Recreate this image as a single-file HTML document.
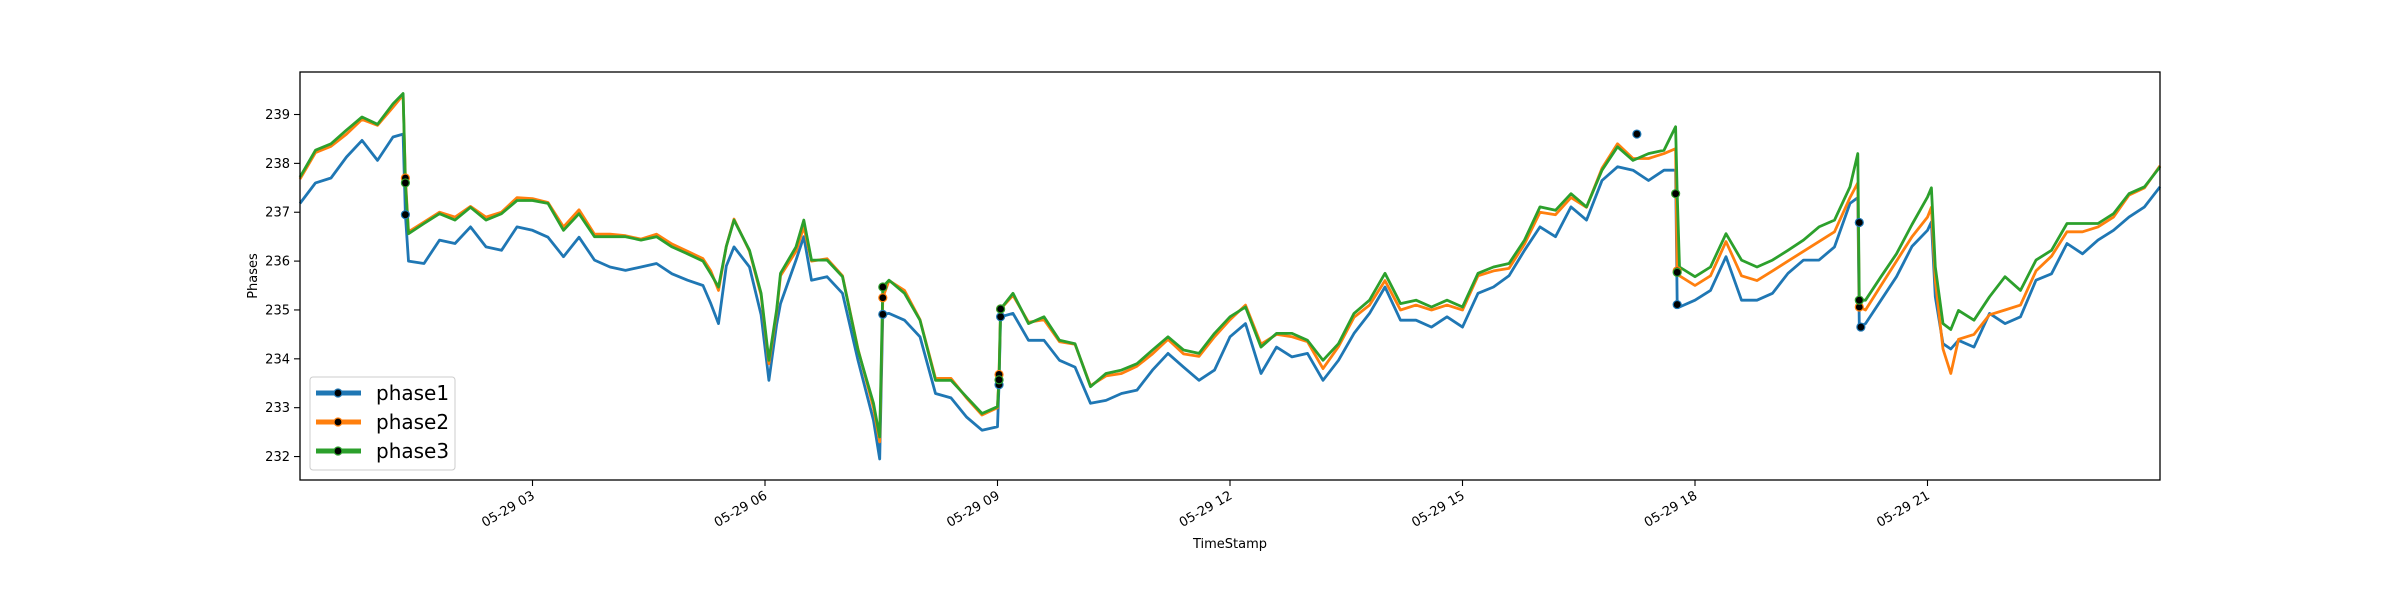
<!DOCTYPE html>
<html><head><meta charset="utf-8"><style>
html,body{margin:0;padding:0;background:#fff;}
svg{display:block;}
text{font-family:"DejaVu Sans","Liberation Sans",sans-serif;}
</style></head><body>
<svg id="chart" width="2400" height="600" viewBox="0 0 2400 600" xmlns="http://www.w3.org/2000/svg">
<rect x="0" y="0" width="2400" height="600" fill="#fff"/>
<g id="series"></g>
<g id="axes"></g>
</svg>
<script>
const hours = [0,0.2,0.4,0.6,0.8,1.0,1.2,1.33,1.36,1.4,1.6,1.8,2.0,2.2,2.4,2.6,2.8,3.0,3.2,3.4,3.6,3.8,4.0,4.2,4.4,4.6,4.8,5.0,5.2,5.3,5.4,5.5,5.6,5.8,5.95,6.05,6.15,6.2,6.4,6.5,6.6,6.8,7.0,7.2,7.4,7.48,7.52,7.6,7.8,8.0,8.2,8.4,8.6,8.8,9.0,9.02,9.04,9.2,9.4,9.6,9.8,10.0,10.2,10.4,10.6,10.8,11.0,11.2,11.4,11.6,11.8,12.0,12.2,12.4,12.6,12.8,13.0,13.2,13.4,13.6,13.8,14.0,14.2,14.4,14.6,14.8,15.0,15.2,15.4,15.6,15.8,16.0,16.2,16.4,16.6,16.8,17.0,17.2,17.4,17.6,17.75,17.77,17.8,18.0,18.2,18.4,18.6,18.8,19.0,19.2,19.4,19.6,19.8,20.0,20.1,20.12,20.2,20.4,20.6,20.8,21.0,21.05,21.1,21.2,21.3,21.4,21.6,21.8,22.0,22.2,22.4,22.6,22.8,23.0,23.2,23.4,23.6,23.8,24.0];
const phase1 = [237.18,237.6,237.7,238.13,238.47,238.06,238.54,238.6,236.95,236.0,235.95,236.43,236.36,236.7,236.29,236.22,236.7,236.63,236.49,236.09,236.49,236.02,235.88,235.81,235.88,235.95,235.74,235.61,235.5,235.13,234.72,235.9,236.29,235.88,234.9,233.56,234.7,235.13,236.02,236.5,235.61,235.68,235.34,233.97,232.74,231.95,234.91,234.93,234.79,234.45,233.29,233.2,232.81,232.54,232.61,233.47,234.86,234.93,234.38,234.38,233.97,233.83,233.09,233.15,233.29,233.36,233.77,234.11,233.83,233.56,233.77,234.45,234.72,233.7,234.24,234.04,234.11,233.56,233.97,234.52,234.93,235.47,234.79,234.79,234.65,234.86,234.65,235.34,235.47,235.7,236.22,236.7,236.5,237.11,236.84,237.65,237.93,237.86,237.65,237.86,237.86,235.11,235.06,235.2,235.4,236.09,235.2,235.2,235.34,235.75,236.02,236.02,236.29,237.18,237.3,234.65,234.72,235.2,235.68,236.3,236.63,236.8,235.27,234.31,234.2,234.38,234.24,234.93,234.72,234.86,235.61,235.74,236.36,236.15,236.43,236.63,236.9,237.11,237.52];
const phase2 = [237.68,238.22,238.35,238.6,238.9,238.78,239.15,239.4,237.7,236.6,236.8,237.0,236.9,237.12,236.9,237.0,237.3,237.28,237.2,236.7,237.05,236.55,236.55,236.52,236.45,236.55,236.35,236.2,236.05,235.8,235.4,236.3,236.86,236.2,235.3,233.9,234.95,235.7,236.2,236.7,236.0,236.05,235.7,234.2,233.0,232.3,235.25,235.6,235.4,234.8,233.6,233.6,233.2,232.85,233.0,233.68,235.02,235.3,234.75,234.8,234.35,234.3,233.45,233.65,233.7,233.85,234.1,234.4,234.1,234.05,234.45,234.8,235.1,234.3,234.5,234.45,234.35,233.8,234.25,234.85,235.1,235.6,235.0,235.1,235.0,235.1,235.0,235.7,235.8,235.85,236.35,237.0,236.95,237.3,237.1,237.9,238.4,238.1,238.1,238.2,238.3,235.8,235.7,235.5,235.7,236.4,235.7,235.6,235.8,236.0,236.2,236.4,236.6,237.3,237.6,235.06,235.0,235.5,236.0,236.5,236.9,237.1,235.6,234.2,233.7,234.4,234.5,234.9,235.0,235.1,235.8,236.1,236.6,236.6,236.7,236.9,237.35,237.5,237.95];
const phase3 = [237.72,238.27,238.4,238.68,238.95,238.8,239.22,239.43,237.6,236.56,236.77,236.97,236.84,237.1,236.84,236.97,237.24,237.24,237.18,236.63,236.97,236.5,236.5,236.5,236.43,236.5,236.29,236.15,236.0,235.74,235.47,236.3,236.84,236.22,235.34,233.97,235.0,235.75,236.29,236.84,236.02,236.02,235.68,234.18,233.09,232.4,235.47,235.61,235.34,234.79,233.56,233.56,233.22,232.88,233.02,233.57,235.02,235.34,234.72,234.86,234.38,234.31,233.43,233.7,233.77,233.9,234.18,234.45,234.18,234.11,234.52,234.86,235.06,234.24,234.52,234.52,234.38,233.97,234.31,234.93,235.2,235.75,235.13,235.2,235.06,235.2,235.06,235.75,235.88,235.95,236.43,237.11,237.04,237.38,237.11,237.86,238.34,238.06,238.2,238.27,238.75,237.38,235.88,235.68,235.88,236.56,236.02,235.88,236.02,236.22,236.43,236.7,236.84,237.52,238.2,235.2,235.2,235.68,236.15,236.75,237.31,237.5,235.88,234.72,234.6,234.99,234.79,235.27,235.68,235.4,236.02,236.22,236.77,236.77,236.77,236.97,237.38,237.52,237.93];
const markers1 = [[1.36,236.95],[7.52,234.91],[9.02,233.47],[9.04,234.86],[17.25,238.6],[17.77,235.11],[20.12,236.79],[20.14,234.65]];
const markers2 = [[1.36,237.7],[7.52,235.25],[9.02,233.68],[9.04,235.02],[17.77,235.8],[20.12,235.06]];
const markers3 = [[1.36,237.6],[7.52,235.47],[9.02,233.57],[9.04,235.02],[17.75,237.38],[17.77,235.77],[20.12,235.2]];
const yTicks = [232,233,234,235,236,237,238,239];
const xTickHours = [3,6,9,12,15,18,21];
const xTickLabels = ["05-29 03","05-29 06","05-29 09","05-29 12","05-29 15","05-29 18","05-29 21"];
const seriesNames = ["phase1","phase2","phase3"];
const seriesColors = ["#1f77b4","#ff7f0e","#2ca02c"];

const NS = "http://www.w3.org/2000/svg";
const L = 300, R = 2160, T = 72, B = 480;
const xMin = 0, xMax = 24;
const yMin = 231.52, yMax = 239.87;
function xs(h){ return L + (h - xMin) / (xMax - xMin) * (R - L); }
function ys(v){ return B - (v - yMin) / (yMax - yMin) * (B - T); }
function mk(tag, attrs, parent){
  const e = document.createElementNS(NS, tag);
  for (const k in attrs) e.setAttribute(k, attrs[k]);
  parent.appendChild(e);
  return e;
}
const sg = document.getElementById('series');
const ag = document.getElementById('axes');
const allVals = [phase1, phase2, phase3];
const allMarkers = [markers1, markers2, markers3];
allVals.forEach((vals, i) => {
  const d = vals.map((v, j) => (j ? 'L' : 'M') + xs(hours[j]).toFixed(1) + ',' + ys(v).toFixed(1)).join(' ');
  const p = mk('path', {d: d, fill: 'none', stroke: seriesColors[i], 'stroke-width': 2.8, 'stroke-linejoin': 'round'}, sg);
  
  
});
allMarkers.forEach((ms, i) => {
  ms.forEach(m => {
    const c = mk('circle', {cx: xs(m[0]), cy: ys(m[1]), r: 4, fill: '#000', stroke: seriesColors[i], 'stroke-width': 1.2}, sg);
    
    
  });
});
const fr = mk('rect', {x: L, y: T, width: R - L, height: B - T, fill: 'none', stroke: '#000', 'stroke-width': 1.3}, ag);


yTicks.forEach(t => {
  const y = ys(t);
  const tk = mk('line', {x1: L - 6, x2: L, y1: y, y2: y, stroke: '#000', 'stroke-width': 1.1}, ag);
  
  
  const tx = mk('text', {x: L - 10, y: y + 4.5, 'text-anchor': 'end', 'font-size': 13, fill: '#000'}, ag);
  tx.textContent = t;
  
  
});
xTickHours.forEach((h, i) => {
  const x = xs(h);
  const tk = mk('line', {x1: x, x2: x, y1: B, y2: B + 6, stroke: '#000', 'stroke-width': 1.1}, ag);
  
  
  const tx = mk('text', {x: x + 3, y: B + 18, 'text-anchor': 'end', 'font-size': 13, fill: '#000', transform: 'rotate(-30 ' + (x + 3) + ' ' + (B + 18) + ')'}, ag);
  tx.textContent = xTickLabels[i];
  
  
});
const xl = mk('text', {x: (L + R) / 2, y: 548, 'text-anchor': 'middle', 'font-size': 13, fill: '#000'}, ag);
xl.textContent = 'TimeStamp';


const yl = mk('text', {x: 0, y: 0, 'text-anchor': 'middle', 'font-size': 13, fill: '#000', transform: 'translate(257 276) rotate(-90)'}, ag);
yl.textContent = 'Phases';


const lg = mk('g', {}, ag);


mk('rect', {x: 310, y: 377, width: 145, height: 93, rx: 3, fill: '#fff', 'fill-opacity': 0.8, stroke: '#ccc', 'stroke-width': 1}, lg);
seriesNames.forEach((n, i) => {
  const y = 393 + i * 29;
  const e = mk('g', {}, lg);
  
  
  mk('line', {x1: 316, x2: 361, y1: y, y2: y, stroke: seriesColors[i], 'stroke-width': 5}, e);
  mk('circle', {cx: 338, cy: y, r: 4, fill: '#000', stroke: seriesColors[i], 'stroke-width': 1.2}, e);
  const t = mk('text', {x: 376, y: y + 7, 'font-size': 20, fill: '#000'}, e);
  t.textContent = n;
});
</script>
</body></html>
